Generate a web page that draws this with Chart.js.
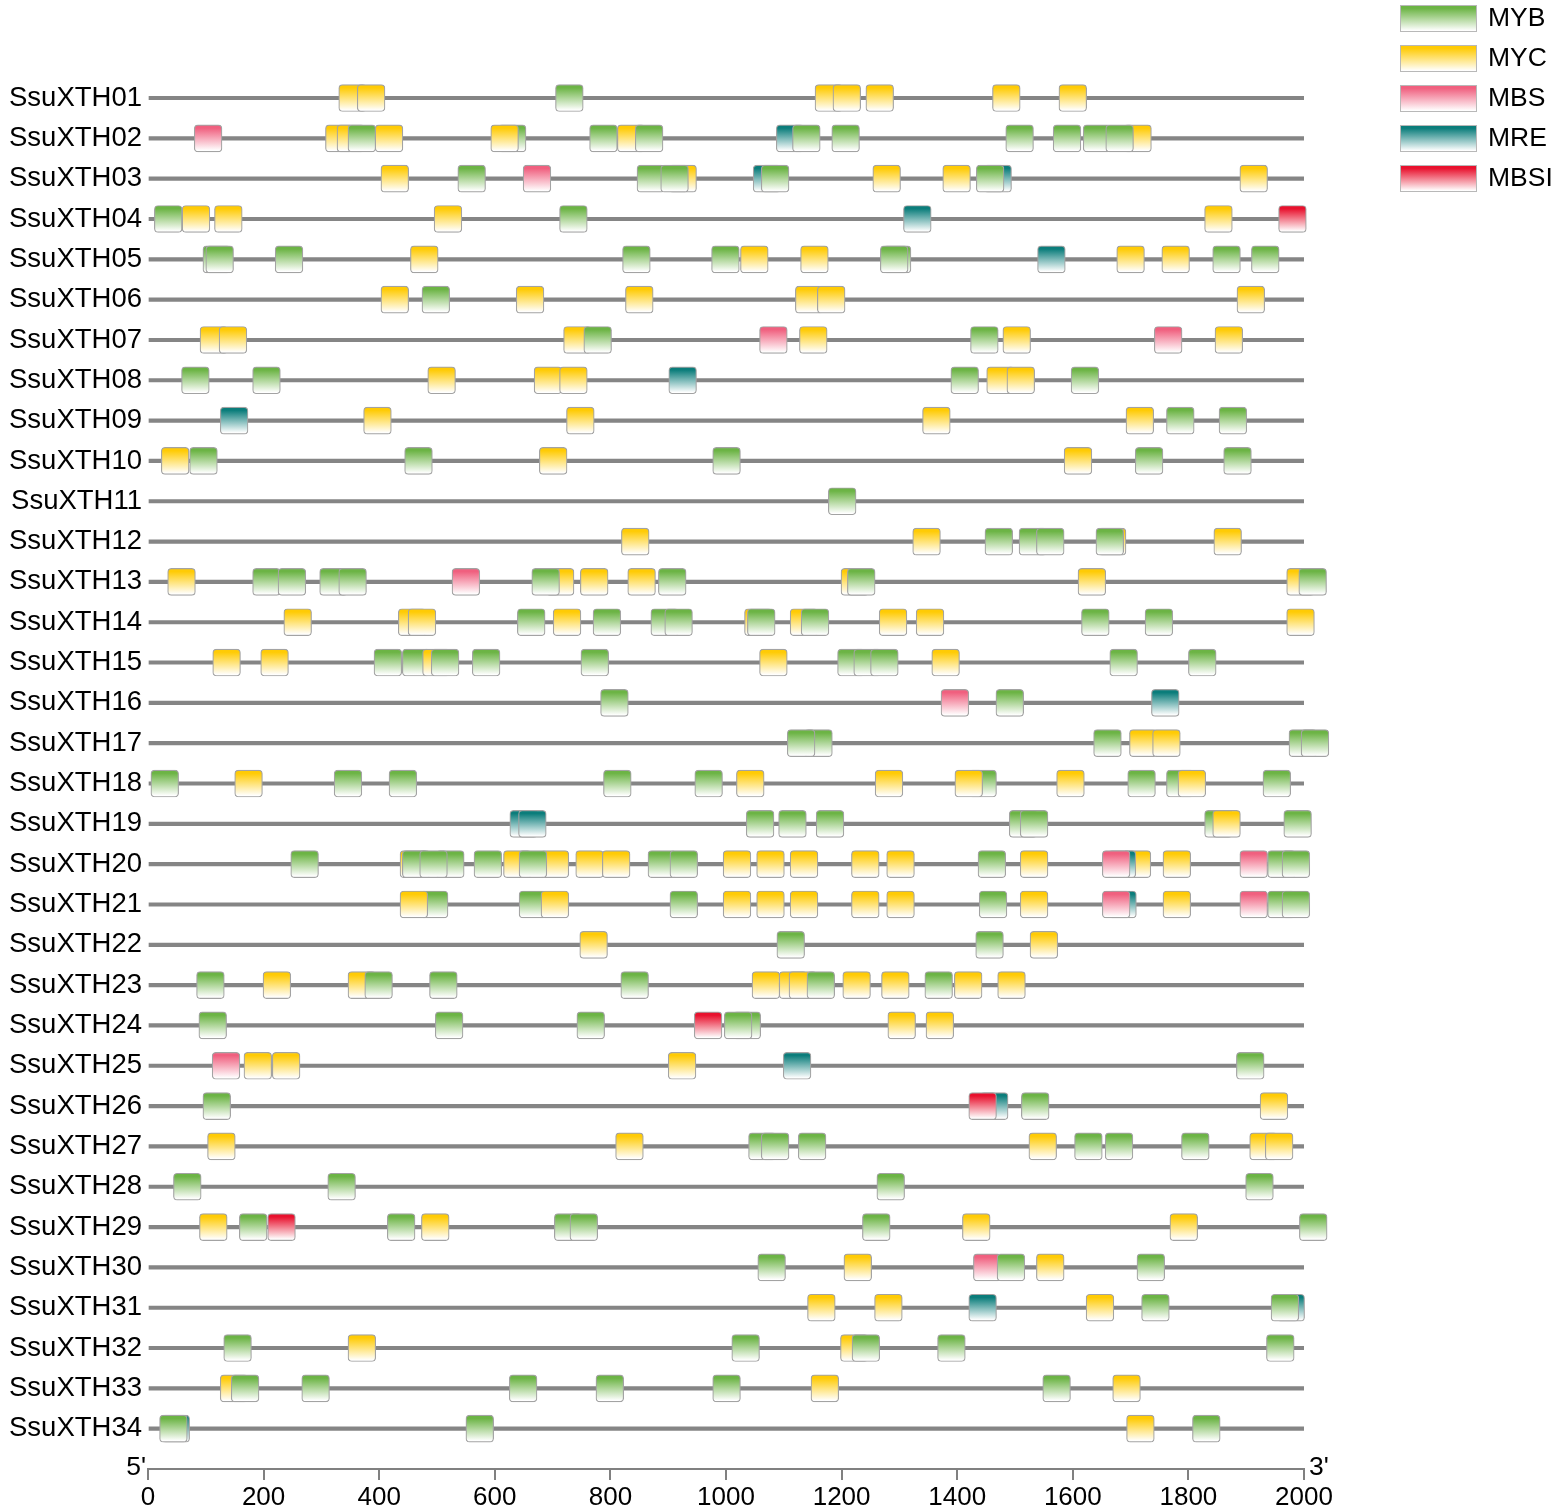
<!DOCTYPE html>
<html>
<head>
<meta charset="utf-8">
<title>SsuXTH promoter cis-elements</title>
<script src="https://cdn.jsdelivr.net/npm/chart.js@4.4.1/dist/chart.umd.min.js"></script>
<style>
  html, body { margin: 0; padding: 0; background: #fff; }
  #wrap { width: 1559px; height: 1511px; position: relative; }
</style>
</head>
<body>
<div id="wrap"><canvas id="motifChart"></canvas></div>
<script>
// promoter length (bp) and axis ticks
const promoterLength = 2000;
const xTickStep = 200;

const genes = [
  'SsuXTH01', 'SsuXTH02', 'SsuXTH03', 'SsuXTH04', 'SsuXTH05', 'SsuXTH06', 'SsuXTH07',
  'SsuXTH08', 'SsuXTH09', 'SsuXTH10', 'SsuXTH11', 'SsuXTH12', 'SsuXTH13', 'SsuXTH14',
  'SsuXTH15', 'SsuXTH16', 'SsuXTH17', 'SsuXTH18', 'SsuXTH19', 'SsuXTH20', 'SsuXTH21',
  'SsuXTH22', 'SsuXTH23', 'SsuXTH24', 'SsuXTH25', 'SsuXTH26', 'SsuXTH27', 'SsuXTH28',
  'SsuXTH29', 'SsuXTH30', 'SsuXTH31', 'SsuXTH32', 'SsuXTH33', 'SsuXTH34'
];

const siteTypes = ['MYB', 'MYC', 'MBS', 'MRE', 'MBSI'];
const siteColors = ['#6cb445', '#ffcb05', '#f0607f', '#0b7d7b', '#e8112d'];

// element start positions per gene, in drawing order (later ones sit on top)
const sites = [
  /* 01 */ [[330,'MYC'],[362,'MYC'],[705,'MYB'],[1154,'MYC'],[1185,'MYC'],[1242,'MYC'],[1461,'MYC'],[1576,'MYC']],
  /* 02 */ [[80,'MBS'],[307,'MYC'],[327,'MYC'],[346,'MYB'],[393,'MYC'],[606,'MYB'],[593,'MYC'],[764,'MYB'],[812,'MYC'],[843,'MYB'],[1087,'MRE'],[1115,'MYB'],[1183,'MYB'],[1484,'MYB'],[1566,'MYB'],[1618,'MYB'],[1688,'MYC'],[1657,'MYB']],
  /* 03 */ [[403,'MYC'],[536,'MYB'],[649,'MBS'],[846,'MYB'],[901,'MYC'],[887,'MYB'],[1047,'MRE'],[1061,'MYB'],[1254,'MYC'],[1375,'MYC'],[1446,'MRE'],[1433,'MYB'],[1889,'MYC']],
  /* 04 */ [[11,'MYB'],[59,'MYC'],[115,'MYC'],[495,'MYC'],[712,'MYB'],[1307,'MRE'],[1828,'MYC'],[1956,'MBSI']],
  /* 05 */ [[95,'MYB'],[100,'MYB'],[220,'MYB'],[454,'MYC'],[821,'MYB'],[975,'MYB'],[1025,'MYC'],[1129,'MYC'],[1272,'MYB'],[1267,'MYB'],[1539,'MRE'],[1676,'MYC'],[1754,'MYC'],[1842,'MYB'],[1909,'MYB']],
  /* 06 */ [[403,'MYC'],[474,'MYB'],[637,'MYC'],[826,'MYC'],[1120,'MYC'],[1158,'MYC'],[1884,'MYC']],
  /* 07 */ [[90,'MYC'],[123,'MYC'],[719,'MYC'],[754,'MYB'],[1058,'MBS'],[1127,'MYC'],[1423,'MYB'],[1479,'MYC'],[1741,'MBS'],[1846,'MYC']],
  /* 08 */ [[58,'MYB'],[181,'MYB'],[484,'MYC'],[668,'MYC'],[712,'MYC'],[901,'MRE'],[1389,'MYB'],[1451,'MYC'],[1486,'MYC'],[1597,'MYB']],
  /* 09 */ [[125,'MRE'],[373,'MYC'],[724,'MYC'],[1340,'MYC'],[1692,'MYC'],[1762,'MYB'],[1853,'MYB']],
  /* 10 */ [[23,'MYC'],[72,'MYB'],[444,'MYB'],[677,'MYC'],[977,'MYB'],[1585,'MYC'],[1708,'MYB'],[1861,'MYB']],
  /* 11 */ [[1177,'MYB']],
  /* 12 */ [[819,'MYC'],[1323,'MYC'],[1448,'MYB'],[1507,'MYB'],[1537,'MYB'],[1644,'MYC'],[1640,'MYB'],[1844,'MYC']],
  /* 13 */ [[34,'MYC'],[181,'MYB'],[225,'MYB'],[297,'MYB'],[330,'MYB'],[526,'MBS'],[689,'MYC'],[664,'MYB'],[748,'MYC'],[830,'MYC'],[883,'MYB'],[1199,'MYC'],[1210,'MYB'],[1609,'MYC'],[1970,'MYC'],[1991,'MYB']],
  /* 14 */ [[235,'MYC'],[433,'MYC'],[450,'MYC'],[639,'MYB'],[701,'MYC'],[770,'MYB'],[870,'MYB'],[894,'MYB'],[1032,'MYC'],[1037,'MYB'],[1111,'MYC'],[1130,'MYB'],[1265,'MYC'],[1329,'MYC'],[1615,'MYB'],[1725,'MYB'],[1970,'MYC']],
  /* 15 */ [[112,'MYC'],[195,'MYC'],[391,'MYB'],[440,'MYB'],[475,'MYC'],[490,'MYB'],[561,'MYB'],[749,'MYB'],[1058,'MYC'],[1193,'MYB'],[1221,'MYB'],[1250,'MYB'],[1356,'MYC'],[1664,'MYB'],[1800,'MYB']],
  /* 16 */ [[783,'MYB'],[1372,'MBS'],[1467,'MYB'],[1736,'MRE']],
  /* 17 */ [[1136,'MYB'],[1106,'MYB'],[1636,'MYB'],[1698,'MYC'],[1738,'MYC'],[1974,'MYB'],[1995,'MYB']],
  /* 18 */ [[5,'MYB'],[150,'MYC'],[322,'MYB'],[417,'MYB'],[788,'MYB'],[946,'MYB'],[1018,'MYC'],[1258,'MYC'],[1420,'MYB'],[1396,'MYC'],[1572,'MYC'],[1695,'MYB'],[1762,'MYB'],[1782,'MYC'],[1929,'MYB']],
  /* 19 */ [[626,'MRE'],[641,'MRE'],[1035,'MYB'],[1091,'MYB'],[1156,'MYB'],[1490,'MYB'],[1509,'MYB'],[1828,'MYB'],[1842,'MYC'],[1965,'MYB']],
  /* 20 */ [[247,'MYB'],[436,'MYC'],[440,'MYB'],[499,'MYB'],[470,'MYB'],[564,'MYB'],[615,'MYC'],[680,'MYC'],[642,'MYB'],[740,'MYC'],[786,'MYC'],[865,'MYB'],[903,'MYB'],[995,'MYC'],[1053,'MYC'],[1111,'MYC'],[1217,'MYC'],[1278,'MYC'],[1436,'MYB'],[1509,'MYC'],[1687,'MYC'],[1661,'MRE'],[1651,'MBS'],[1756,'MYC'],[1889,'MBS'],[1937,'MYB'],[1962,'MYB']],
  /* 21 */ [[471,'MYB'],[436,'MYC'],[642,'MYB'],[680,'MYC'],[903,'MYB'],[995,'MYC'],[1053,'MYC'],[1111,'MYC'],[1217,'MYC'],[1278,'MYC'],[1438,'MYB'],[1509,'MYC'],[1662,'MRE'],[1651,'MBS'],[1756,'MYC'],[1889,'MBS'],[1937,'MYB'],[1962,'MYB']],
  /* 22 */ [[747,'MYC'],[1088,'MYB'],[1432,'MYB'],[1526,'MYC']],
  /* 23 */ [[84,'MYB'],[199,'MYC'],[346,'MYC'],[375,'MYB'],[487,'MYB'],[818,'MYB'],[1045,'MYC'],[1092,'MYC'],[1109,'MYC'],[1140,'MYB'],[1202,'MYC'],[1269,'MYC'],[1344,'MYB'],[1395,'MYC'],[1470,'MYC']],
  /* 24 */ [[88,'MYB'],[497,'MYB'],[742,'MYB'],[945,'MBSI'],[1012,'MYB'],[997,'MYB'],[1280,'MYC'],[1346,'MYC']],
  /* 25 */ [[111,'MBS'],[166,'MYC'],[215,'MYC'],[900,'MYC'],[1099,'MRE'],[1883,'MYB']],
  /* 26 */ [[95,'MYB'],[1440,'MRE'],[1420,'MBSI'],[1511,'MYB'],[1924,'MYC']],
  /* 27 */ [[103,'MYC'],[809,'MYC'],[1039,'MYB'],[1061,'MYB'],[1125,'MYB'],[1524,'MYC'],[1603,'MYB'],[1656,'MYB'],[1788,'MYB'],[1906,'MYC'],[1933,'MYC']],
  /* 28 */ [[44,'MYB'],[311,'MYB'],[1261,'MYB'],[1899,'MYB']],
  /* 29 */ [[89,'MYC'],[158,'MYB'],[207,'MBSI'],[414,'MYB'],[473,'MYC'],[703,'MYB'],[730,'MYB'],[1236,'MYB'],[1409,'MYC'],[1768,'MYC'],[1992,'MYB']],
  /* 30 */ [[1055,'MYB'],[1204,'MYC'],[1428,'MBS'],[1469,'MYB'],[1537,'MYC'],[1711,'MYB']],
  /* 31 */ [[1141,'MYC'],[1257,'MYC'],[1420,'MRE'],[1623,'MYC'],[1719,'MYB'],[1953,'MRE'],[1943,'MYB']],
  /* 32 */ [[131,'MYB'],[346,'MYC'],[1010,'MYB'],[1198,'MYC'],[1218,'MYB'],[1366,'MYB'],[1935,'MYB']],
  /* 33 */ [[125,'MYC'],[144,'MYB'],[266,'MYB'],[625,'MYB'],[775,'MYB'],[977,'MYB'],[1147,'MYC'],[1548,'MYB'],[1669,'MYC']],
  /* 34 */ [[24,'MRE'],[20,'MYB'],[550,'MYB'],[1693,'MYC'],[1807,'MYB']]
];

const FONT = "'Liberation Sans', Arial, Helvetica, sans-serif";
const BOX_BP = 48;   // drawn width of an element box, in bp
const BOX_PX = 27;   // box height in px

// colour fading to white downwards
function fade(ctx, color, top, bottom) {
  const g = ctx.createLinearGradient(0, top, 0, bottom);
  g.addColorStop(0, color);
  g.addColorStop(0.12, color);
  g.addColorStop(0.95, '#ffffff');
  return g;
}

function boxFill(c) {
  if (!c.raw) return 'rgba(0,0,0,0)';
  const color = siteColors[siteTypes.indexOf(c.raw.type)];
  const y = c.chart.scales.y;
  const yc = y ? y.getPixelForValue(c.raw.y) : NaN;
  if (!Number.isFinite(yc)) return color;
  return fade(c.chart.ctx, color, yc - BOX_PX / 2, yc + BOX_PX / 2);
}

const boxData = [];
sites.forEach((row, i) => {
  row.forEach(([pos, type]) => {
    boxData.push({ x: [pos, pos + BOX_BP], y: i + 1, type });
  });
});
const backbone = genes.map((g, i) => ({ x: [0, promoterLength], y: i + 1 }));

// 5'/3' marks and the element legend
const extras = {
  id: 'extras',
  afterDraw(chart) {
    const { ctx, scales: { x } } = chart;
    ctx.save();
    ctx.font = '26.5px ' + FONT;
    ctx.fillStyle = '#000';
    ctx.textBaseline = 'alphabetic';
    ctx.textAlign = 'right';
    ctx.fillText("5'", x.left - 2, x.top + 6);
    ctx.textAlign = 'left';
    ctx.fillText("3'", x.right + 5, x.top + 6);

    const lx = chart.width - 159;
    siteTypes.forEach((t, i) => {
      const top = 5 + i * 40;
      ctx.fillStyle = fade(ctx, siteColors[i], top, top + 27);
      ctx.fillRect(lx, top, 77, 27);
      ctx.strokeStyle = '#b8b8b8';
      ctx.lineWidth = 1;
      ctx.strokeRect(lx + 0.5, top + 0.5, 76, 26);
      ctx.fillStyle = '#000';
      ctx.textAlign = 'left';
      ctx.textBaseline = 'middle';
      ctx.fillText(t, lx + 88, top + 14);
    });
    ctx.restore();
  }
};

const chart = new Chart(document.getElementById('motifChart'), {
  type: 'bar',
  data: {
    datasets: [
      {
        label: 'elements',
        data: boxData,
        backgroundColor: boxFill,
        borderColor: '#a3a3a3',
        borderWidth: 1.2,
        borderRadius: 4,
        borderSkipped: false,
        barThickness: BOX_PX,
        grouped: false,
        clip: false,
        order: 0
      },
      {
        label: 'promoter',
        data: backbone,
        backgroundColor: '#858585',
        borderWidth: 0,
        barThickness: 3.5,
        grouped: false,
        order: 1
      }
    ]
  },
  options: {
    indexAxis: 'y',
    responsive: true,
    maintainAspectRatio: false,
    animation: false,
    layout: { padding: { top: 57.7, right: 255, bottom: 0, left: 0 } },
    plugins: {
      legend: { display: false },
      tooltip: { enabled: false }
    },
    scales: {
      x: {
        type: 'linear',
        position: 'bottom',
        min: 0,
        max: promoterLength,
        afterFit: (s) => { s.height = 42; },
        ticks: {
          stepSize: xTickStep,
          autoSkip: false,
          maxRotation: 0,
          padding: 2,
          color: '#000',
          font: { family: FONT, size: 26 },
          callback: (v) => String(v)
        },
        grid: { drawOnChartArea: false, drawTicks: true, tickLength: 11, color: '#808080', lineWidth: 2 },
        border: { display: true, color: '#808080', width: 2 }
      },
      y: {
        type: 'linear',
        reverse: true,
        offset: false,
        min: 0,
        max: genes.length + 1,
        afterFit: (s) => { s.width = 148; },
        ticks: {
          stepSize: 1,
          autoSkip: false,
          padding: 6,
          color: '#000',
          font: { family: FONT, size: 27.5 },
          callback: (v) => genes[v - 1] || ''
        },
        grid: { display: false, drawTicks: false },
        border: { display: false }
      }
    }
  },
  plugins: [extras]
});
// second pass so the gradients are built against laid-out scales
chart.update();
</script>
</body>
</html>
